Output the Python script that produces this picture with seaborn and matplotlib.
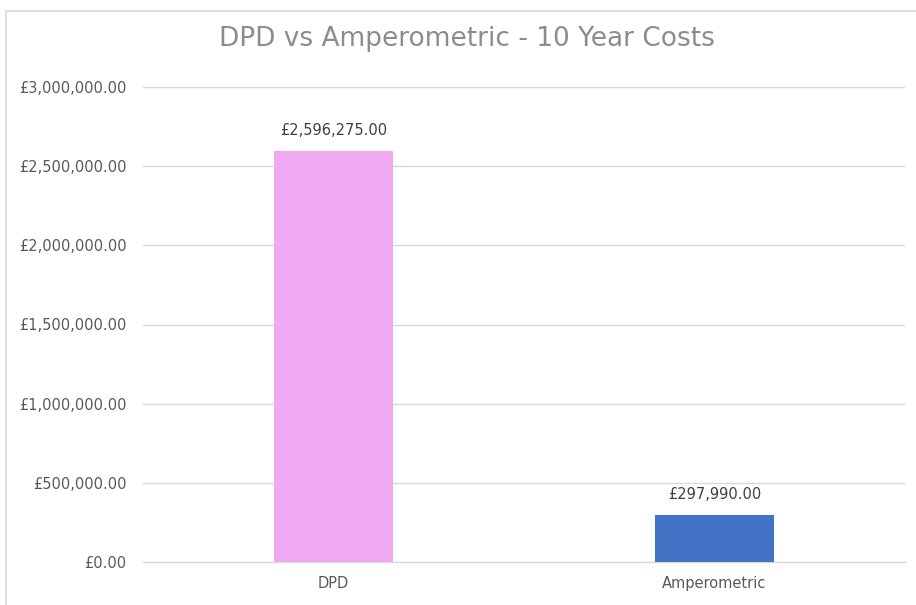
import matplotlib
matplotlib.use("Agg")
import matplotlib.pyplot as plt
import seaborn as sns
import pandas as pd
from matplotlib.ticker import FuncFormatter, MultipleLocator
from matplotlib.patches import Rectangle

# Chart data
methods = ["DPD", "Amperometric"]
costs = [2596275.00, 297990.00]
bar_colours = ["#F0A8F0", "#4472C4"]

df = pd.DataFrame({"Method": methods, "Cost": costs})

sns.set_style("white")
plt.rcParams['font.family'] = ['DejaVu Sans']

fig = plt.figure(figsize=(9.16, 6.05), dpi=100)
ax = fig.add_axes([143 / 916, 1 - 562 / 605, (905 - 143) / 916, (562 - 87) / 605])

# chart border (Excel style, cropped at right/bottom)
fig.patches.append(Rectangle((6 / 916, -0.05), 1.2, 1 - 11 / 605 + 0.05,
                             transform=fig.transFigure, fill=False,
                             edgecolor="#D9D9D9", linewidth=1.2, zorder=0))

sns.barplot(data=df, x="Method", y="Cost", hue="Method", palette=bar_colours,
            width=0.3125, legend=False, saturation=1, linewidth=0, ax=ax, zorder=3)

ax.set_xlim(-0.5, 1.5)
ax.set_ylim(0, 3000000)
ax.yaxis.set_major_locator(MultipleLocator(500000))
ax.yaxis.set_major_formatter(FuncFormatter(lambda v, p: f"£{v:,.2f}"))
ax.grid(axis="y", color="#D9D9D9", linewidth=1, zorder=0)
ax.set_axisbelow(True)
for s in ax.spines.values():
    s.set_visible(False)
ax.spines["bottom"].set_visible(True)
ax.spines["bottom"].set_color("#D9D9D9")
ax.spines["bottom"].set_linewidth(1)
ax.tick_params(axis="both", length=0, labelsize=10.5, labelcolor="#595959")
ax.tick_params(axis="y", pad=12)
ax.tick_params(axis="x", pad=10)
ax.set_xlabel("")
ax.set_ylabel("")

# data labels
for i, v in enumerate(costs):
    ax.annotate(f"£{v:,.2f}", (i, v), xytext=(0, 9), textcoords="offset points",
                ha="center", va="bottom", fontsize=10.5, color="#404040")

fig.text(467 / 916, 1 - 39 / 605, "DPD vs Amperometric - 10 Year Costs",
         ha="center", va="center", fontsize=19, color="#8C8C8C")

fig.savefig("out.png", dpi=100)
